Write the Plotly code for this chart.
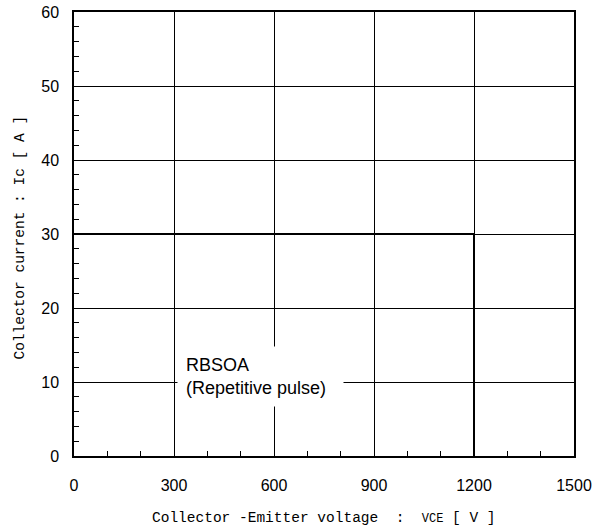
import plotly.graph_objects as go

# Data
rbsoa_vce = [0, 1200, 1200]
rbsoa_ic = [30, 30, 0]
x_ticks = [0, 300, 600, 900, 1200, 1500]
y_ticks = [0, 10, 20, 30, 40, 50, 60]
label_text = "RBSOA<br>(Repetitive pulse)"
x_title = "Collector -Emitter voltage  :  <span style='font-size:12px'>VCE</span> [ V ]"
y_title = "Collector current : Ic [ A ]"

fig = go.Figure()
fig.add_trace(go.Scatter(x=rbsoa_vce, y=rbsoa_ic, mode="lines",
                         line=dict(color="black", width=2), showlegend=False,
                         hoverinfo="skip"))

axis_common = dict(showline=True, mirror=True, linecolor="black", linewidth=1.5,
                   showgrid=True, gridcolor="black", gridwidth=1, zeroline=False,
                   ticks="inside", ticklen=5, tickcolor="black", automargin=False,
                   ticklabeloverflow="allow",
                   tickfont=dict(family="Liberation Sans, Arial", size=16, color="black"))

fig.update_xaxes(range=[0, 1500], tickvals=x_ticks, ticklabelstandoff=14,
                 minor=dict(dtick=100, ticks="inside", ticklen=5, tickcolor="black", showgrid=False),
                 **axis_common)
fig.update_yaxes(range=[0, 60], tickvals=y_ticks, ticklabelstandoff=10,
                 minor=dict(dtick=2, ticks="inside", ticklen=5, tickcolor="black", showgrid=False),
                 **axis_common)

fig.add_annotation(x=310, y=14.9, xref="x", yref="y", xanchor="left", yanchor="top",
                   text=label_text, showarrow=False, align="left", width=149,
                   bgcolor="white", borderpad=8,
                   font=dict(family="Liberation Sans, Arial", size=18, color="black"))

fig.add_annotation(x=0.5, y=-0.1396, xref="paper", yref="paper", xanchor="center", yanchor="middle",
                   text=x_title, showarrow=False,
                   font=dict(family="Liberation Mono, monospace", size=14.5, color="black"))
fig.add_annotation(x=-0.108, y=0.492, xref="paper", yref="paper", xanchor="center", yanchor="middle",
                   text=y_title, showarrow=False, textangle=-90,
                   font=dict(family="Liberation Mono, monospace", size=14.5, color="black"))

fig.update_layout(width=610, height=532, margin=dict(l=74, r=36, t=12, b=76, autoexpand=False),
                  plot_bgcolor="white", paper_bgcolor="white")

fig.write_html("out.html", config={"displayModeBar": False},
               post_script="document.body.style.margin='0';")
